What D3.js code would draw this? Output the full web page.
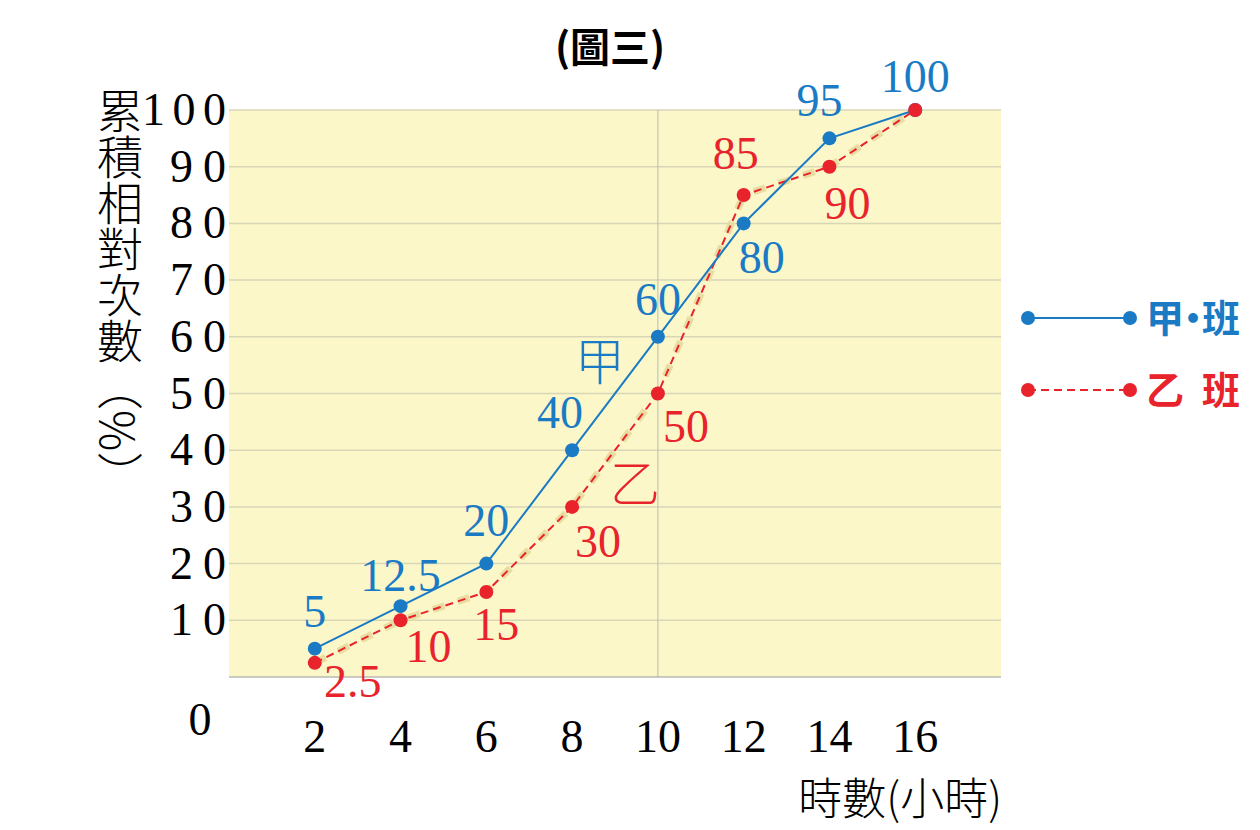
<!DOCTYPE html><html><head><meta charset="utf-8"><script src="https://cdn.jsdelivr.net/npm/d3@7"></script>
<style>body{margin:0;background:#fff}</style></head><body><svg id="c" width="1260" height="830"></svg>
<script>
const hours=[2,4,6,8,10,12,14,16];
const jia=[5,12.5,20,40,60,80,95,100];
const yi=[2.5,10,15,30,50,85,90,100];
const jiaLabels=["5","12.5","20","40","60","80","95","100"];
const yiLabels=["2.5","10","15","30","50","85","90","100"];
const yTicks=[10,20,30,40,50,60,70,80,90,100];
const jiaOff=[[0,-22],[0,-15],[0,-28],[-12,-22],[0,-22],[18,50],[-10,-22],[0,-18]];
const yiOff=[[38,34],[28,42],[10,48],[26,50],[28,48],[-8,-26],[18,52],[0,0]];
const svg=d3.select("#c");
const x=d3.scaleLinear().domain([0,18]).range([229,1001]);
const y=d3.scaleLinear().domain([0,100]).range([677,110]);
const serif="'Liberation Serif','DejaVu Serif',serif";
function big(sel,fs){return sel.attr("font-family",serif).attr("font-size",fs);}
svg.append("rect").attr("x",x(0)).attr("y",y(100)).attr("width",x(18)-x(0)).attr("height",y(0)-y(100)).attr("fill","#fbf7c9");
svg.selectAll(".g").data(yTicks).join("line").attr("x1",x(0)).attr("x2",x(18)).attr("y1",d=>y(d)).attr("y2",d=>y(d)).attr("stroke","#d9d6b8").attr("stroke-width",1.5);
svg.append("line").attr("x1",x(10)).attr("x2",x(10)).attr("y1",y(100)).attr("y2",y(0)).attr("stroke","#bbb").attr("stroke-width",1);
svg.append("line").attr("x1",x(0)).attr("x2",x(18)).attr("y1",y(0)).attr("y2",y(0)).attr("stroke","#999");
big(svg.selectAll(".yt").data(yTicks).join("text").attr("x",226).attr("y",d=>y(d)+15).attr("text-anchor","end"),46).attr("textLength",d=>d===100?84:56).text(d=>d);
big(svg.append("text").attr("x",200).attr("y",735).attr("text-anchor","middle"),46).text("0");
big(svg.selectAll(".xt").data(hours).join("text").attr("x",d=>x(d)).attr("y",752).attr("text-anchor","middle"),46).text(d=>d);
svg.append("text").attr("x",1002).attr("y",815).attr("text-anchor","end").attr("font-family","'Noto Sans CJK TC'").attr("font-size",44).attr("font-weight",300).text("時數(小時)");
svg.append("text").attr("x",610).attr("y",62).attr("text-anchor","middle").attr("font-family","'Noto Sans CJK TC'").attr("font-weight","bold").attr("font-size",40).text("(圖三)");
svg.append("text").attr("transform","translate(120,88)").attr("style","writing-mode:vertical-rl").attr("font-family","'Noto Sans CJK TC'").attr("font-weight",300).attr("font-size",46).text("累積相對次數（%）");
const line=d3.line().x((d,i)=>x(hours[i])).y(d=>y(d));
const blue="#1a7bc4",red="#e8232b";
svg.append("path").attr("d",line(yi)).attr("fill","none").attr("stroke","#e8dca0").attr("stroke-width",7).attr("stroke-dasharray","12 14");
svg.append("path").attr("d",line(yi)).attr("fill","none").attr("stroke",red).attr("stroke-width",2).attr("stroke-dasharray","8 5");
svg.append("path").attr("d",line(jia)).attr("fill","none").attr("stroke",blue).attr("stroke-width",2);
svg.selectAll(".pb").data(jia).join("circle").attr("cx",(d,i)=>x(hours[i])).attr("cy",d=>y(d)).attr("r",7).attr("fill",blue);
svg.selectAll(".pr").data(yi).join("circle").attr("cx",(d,i)=>x(hours[i])).attr("cy",d=>y(d)).attr("r",7).attr("fill",red);
big(svg.selectAll(".lb").data(jiaLabels).join("text").attr("x",(d,i)=>x(hours[i])+jiaOff[i][0]).attr("y",(d,i)=>y(jia[i])+jiaOff[i][1]).attr("text-anchor","middle"),46).attr("fill",blue).text(d=>d);
big(svg.selectAll(".lr").data(yiLabels.slice(0,7)).join("text").attr("x",(d,i)=>x(hours[i])+yiOff[i][0]).attr("y",(d,i)=>y(yi[i])+yiOff[i][1]).attr("text-anchor","middle"),46).attr("fill",red).text(d=>d);
svg.append("text").attr("x",600).attr("y",380).attr("text-anchor","middle").attr("font-family","'Noto Sans CJK TC'").attr("font-weight",300).attr("font-size",50).attr("fill",blue).text("甲");
svg.append("text").attr("x",635).attr("y",502).attr("text-anchor","middle").attr("font-family","'Noto Sans CJK TC'").attr("font-weight",300).attr("font-size",50).attr("fill",red).text("乙");
const lg=[{c:blue,t:"甲·班",y:318,dash:null},{c:red,t:"乙 班",y:390,dash:"8 5"}];
lg.forEach(l=>{
 svg.append("line").attr("x1",1028).attr("x2",1130).attr("y1",l.y).attr("y2",l.y).attr("stroke",l.c).attr("stroke-width",2).attr("stroke-dasharray",l.dash);
 [1028,1130].forEach(cx=>svg.append("circle").attr("cx",cx).attr("cy",l.y).attr("r",7).attr("fill",l.c));
 svg.append("text").attr("x",1146).attr("y",l.y+14).attr("font-family","'Noto Sans CJK TC'").attr("font-weight","bold").attr("font-size",38).attr("textLength",94).attr("fill",l.c).text(l.t);
});
</script></body></html>
